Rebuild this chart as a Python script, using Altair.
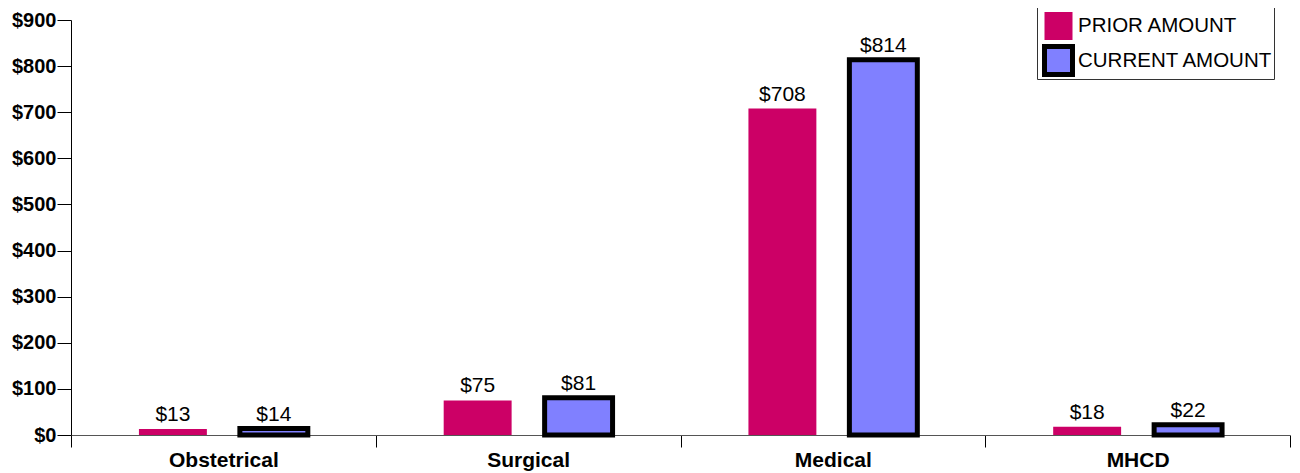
import altair as alt
import pandas as pd

categories = ["Obstetrical", "Surgical", "Medical", "MHCD"]
series = ["PRIOR AMOUNT", "CURRENT AMOUNT"]
prior_values = [13, 75, 708, 18]
current_values = [14, 81, 814, 22]
y_ticks = [0, 100, 200, 300, 400, 500, 600, 700, 800, 900]

rows = []
for c, p, cur in zip(categories, prior_values, current_values):
    rows.append({"category": c, "series": series[0], "value": p})
    rows.append({"category": c, "series": series[1], "value": cur})
df = pd.DataFrame(rows)
df["label"] = df["value"].map(lambda v: f"${v}")

FONT = "Liberation Sans"

x_enc = alt.X("category:N", sort=categories,
              scale=alt.Scale(paddingInner=0, paddingOuter=0),
              axis=alt.Axis(title=None, labelAngle=0, labelFont=FONT, labelFontSize=21,
                            labelFontWeight="bold", labelColor="black",
                            labelBaseline="alphabetic", labelPadding=19,
                            tickSize=12, tickColor="black", tickWidth=1,
                            tickBand="extent", domainColor="#555", domainWidth=1))
xo_enc = alt.XOffset("series:N", sort=series,
                     scale=alt.Scale(domain=series, paddingInner=0.327, paddingOuter=0.673))
y_enc = alt.Y("value:Q",
              scale=alt.Scale(domain=[0, 900], nice=False),
              axis=alt.Axis(title=None, values=y_ticks, labelExpr="'$' + datum.value",
                            labelFont=FONT, labelFontSize=20, labelFontWeight="bold",
                            labelColor="black", labelPadding=1, tickSize=14,
                            tickColor="black", domainColor="black", grid=False))

bars = alt.Chart(df).mark_bar().encode(
    x=x_enc,
    xOffset=xo_enc,
    y=y_enc,
    color=alt.Color("series:N", sort=series,
                    scale=alt.Scale(domain=series, range=["#CC0066", "#8080FF"]),
                    legend=alt.Legend(title=" ", titleFontSize=5, titlePadding=0,
                                      orient="none", legendX=966, legendY=-17,
                                      symbolType="square", symbolSize=784,
                                      symbolOffset=4, clipHeight=34,
                                      labelFont=FONT, labelFontSize=20.5, labelColor="black",
                                      strokeColor="#333", padding=1, rowPadding=0.5,
                                      labelOffset=3, labelLimit=300)),
    stroke=alt.Stroke("series:N", sort=series,
                      scale=alt.Scale(domain=series, range=["#CC0066", "black"]),
                      legend=None),
    strokeWidth=alt.StrokeWidth("series:N", sort=series,
                                scale=alt.Scale(domain=series, range=[0, 5]),
                                legend=None),
)

labels = alt.Chart(df).mark_text(baseline="bottom", dy=-4, font=FONT, fontSize=21,
                                 color="black").encode(
    x=alt.X("category:N", sort=categories),
    xOffset=alt.XOffset("series:N", sort=series),
    y="value:Q",
    text="label:N",
)

chart = alt.layer(bars, labels).properties(
    width=1219, height=415,
    autosize=alt.AutoSizeParams(type="none"),
    padding={"left": 63, "top": 12, "right": 2, "bottom": 38},
).configure_view(stroke=None)

chart.save("out.html", embed_options={"renderer": "svg", "actions": False})
